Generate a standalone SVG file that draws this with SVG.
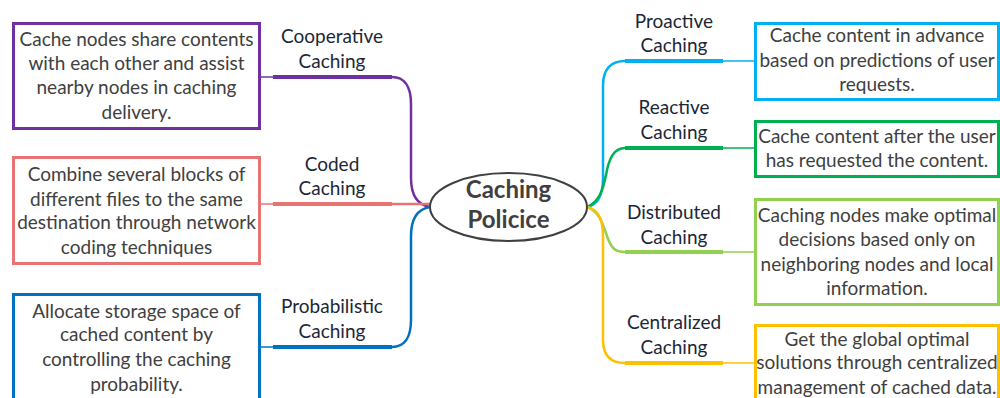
<svg xmlns="http://www.w3.org/2000/svg" width="1000" height="398" viewBox="0 0 1000 398">
<style>
.box{fill:#fff;stroke-width:3}
.bt{font-family:Lato,"Liberation Sans",sans-serif;font-size:19px;fill:#404040;text-anchor:middle}
.lb{font-family:Lato,"Liberation Sans",sans-serif;font-size:19px;fill:#1b2738;text-anchor:middle}
.title{font-family:Lato,"Liberation Sans",sans-serif;font-size:24px;font-weight:bold;fill:#404040;text-anchor:middle}
.thin{fill:none;stroke-width:1.5}
.thick{fill:none;stroke-width:4}
.curve{fill:none;stroke-width:2.5}
</style>
<rect width="1000" height="398" fill="#fff"/>
<g id="connectors">
  <path class="thin" stroke="#7030A0" d="M260,77H275"/>
  <path class="thick" stroke="#7030A0" d="M273,77H392"/>
  <path class="curve" stroke="#7030A0" d="M392,77C404,77 411,86 411,104V178C411,196 418,205 430,207"/>
  <path class="thin" stroke="#E87373" d="M260,204H275"/>
  <path class="thick" stroke="#E87373" d="M273,204H392"/>
  <path class="curve" stroke="#E87373" d="M392,204H430"/>
  <path class="thin" stroke="#0070C0" d="M260,347H275"/>
  <path class="thick" stroke="#0070C0" d="M273,347H392"/>
  <path class="curve" stroke="#0070C0" d="M430,207C418,209 411,218 411,236V320C411,338 404,347 392,347"/>
  <path class="thin" stroke="#00B0F0" d="M721,61H755"/>
  <path class="thick" stroke="#00B0F0" d="M625,61H723"/>
  <path class="curve" stroke="#00B0F0" d="M587,207C597,205 603,196 603,178V86C603,70 610,61 625,61"/>
  <path class="thin" stroke="#00B050" d="M721,148H755"/>
  <path class="thick" stroke="#00B050" d="M625,148H723"/>
  <path class="curve" stroke="#00B050" d="M587,207C599,202 603,190 606,175C609,158 614,148 625,148"/>
  <path class="thin" stroke="#92D050" d="M721,252H755"/>
  <path class="thick" stroke="#92D050" d="M625,252H723"/>
  <path class="curve" stroke="#92D050" d="M587,207C599,211 603,224 607,236C611,248 615,252 625,252"/>
  <path class="thin" stroke="#FFC000" d="M721,363H755"/>
  <path class="thick" stroke="#FFC000" d="M625,363H723"/>
  <path class="curve" stroke="#FFC000" d="M587,207C597,209 603,218 603,236V340C603,355 610,363 625,363"/>
</g>
<g id="center">
  <ellipse cx="508.5" cy="207" rx="78.5" ry="34" fill="#fff" stroke="#404040" stroke-width="2"/>
  <text class="title" x="508.5" y="198">Caching</text>
  <text class="title" x="508.5" y="228">Policice</text>
</g>
<g id="cooperative">
  <text class="lb" x="332" y="43">Cooperative</text>
  <text class="lb" x="332" y="68">Caching</text>
  <rect class="box" stroke="#7030A0" x="13.5" y="23.5" width="246" height="105"/>
  <text class="bt" x="136.5" y="46">Cache nodes share contents</text>
  <text class="bt" x="136.5" y="70">with each other and assist</text>
  <text class="bt" x="136.5" y="94">nearby nodes in caching</text>
  <text class="bt" x="136.5" y="119">delivery.</text>
</g>
<g id="coded">
  <text class="lb" x="332" y="171">Coded</text>
  <text class="lb" x="332" y="195">Caching</text>
  <rect class="box" stroke="#E87373" x="13.5" y="157.5" width="246" height="106"/>
  <text class="bt" x="136.5" y="181">Combine several blocks of</text>
  <text class="bt" x="136.5" y="206">different files to the same</text>
  <text class="bt" x="136.5" y="229">destination through network</text>
  <text class="bt" x="136.5" y="254">coding techniques</text>
</g>
<g id="probabilistic">
  <text class="lb" x="332" y="313">Probabilistic</text>
  <text class="lb" x="332" y="338">Caching</text>
  <rect class="box" stroke="#0070C0" x="13.5" y="294.5" width="246" height="110"/>
  <text class="bt" x="136.5" y="318">Allocate storage space of</text>
  <text class="bt" x="136.5" y="341">cached content by</text>
  <text class="bt" x="136.5" y="366">controlling the caching</text>
  <text class="bt" x="136.5" y="391">probability.</text>
</g>
<g id="proactive">
  <text class="lb" x="674" y="28">Proactive</text>
  <text class="lb" x="674" y="52">Caching</text>
  <rect class="box" stroke="#00B0F0" x="755.5" y="23.5" width="243" height="76"/>
  <text class="bt" x="877" y="42">Cache content in advance</text>
  <text class="bt" x="877" y="67">based on predictions of user</text>
  <text class="bt" x="877" y="91">requests.</text>
</g>
<g id="reactive">
  <text class="lb" x="674" y="114">Reactive</text>
  <text class="lb" x="674" y="139">Caching</text>
  <rect class="box" stroke="#00B050" x="755.5" y="121.5" width="243" height="55"/>
  <text class="bt" x="877" y="143">Cache content after the user</text>
  <text class="bt" x="877" y="167">has requested the content.</text>
</g>
<g id="distributed">
  <text class="lb" x="674" y="219">Distributed</text>
  <text class="lb" x="674" y="244">Caching</text>
  <rect class="box" stroke="#92D050" x="755.5" y="199.5" width="243" height="105"/>
  <text class="bt" x="877" y="222">Caching nodes make optimal</text>
  <text class="bt" x="877" y="246">decisions based only on</text>
  <text class="bt" x="877" y="271">neighboring nodes and local</text>
  <text class="bt" x="877" y="295">information.</text>
</g>
<g id="centralized">
  <text class="lb" x="674" y="329">Centralized</text>
  <text class="lb" x="674" y="354">Caching</text>
  <rect class="box" stroke="#FFC000" x="755.5" y="325.5" width="243" height="80"/>
  <text class="bt" x="877" y="346">Get the global optimal</text>
  <text class="bt" x="877" y="369">solutions through centralized</text>
  <text class="bt" x="877" y="394">management of cached data.</text>
</g>
</svg>
